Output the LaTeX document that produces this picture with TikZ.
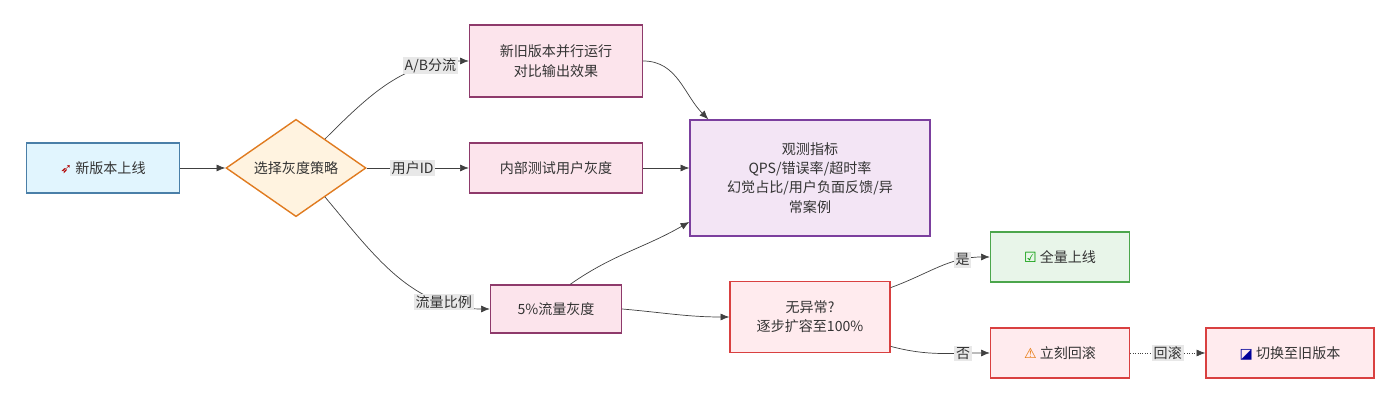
\documentclass[tikz,border=0pt]{standalone}
\usepackage{fontspec}
\setmainfont{Noto Sans CJK SC}
\newfontfamily\symfont{DejaVu Sans}
\usetikzlibrary{shapes.geometric,arrows.meta}
\definecolor{startFill}{HTML}{E1F5FE}
\definecolor{startLine}{HTML}{4A7FA8}
\definecolor{decFill}{HTML}{FFF3E0}
\definecolor{decLine}{HTML}{E07B20}
\definecolor{pinkFill}{HTML}{FCE4EC}
\definecolor{pinkLine}{HTML}{8E3A6B}
\definecolor{obsFill}{HTML}{F3E5F5}
\definecolor{obsLine}{HTML}{7B3F9E}
\definecolor{redFill}{HTML}{FFEBEE}
\definecolor{redLine}{HTML}{D94040}
\definecolor{okFill}{HTML}{E8F5E9}
\definecolor{okLine}{HTML}{4CA64C}
\definecolor{edgeLabel}{HTML}{E8E8E8}
\tikzset{
  box/.style = {draw, thick, align = center, inner sep = 2pt, font = \fontsize{8}{11}\selectfont, text = black!80},
  arr/.style = {-{Latex[length=5pt,width=4pt]}, draw = black!75, thin},
  lbl/.style = {fill = edgeLabel, inner sep = 1pt, font = \fontsize{8}{10}\selectfont, text = black!80}
}
\begin{document}
\begin{tikzpicture}[x = 0.02cm, y = -0.02cm]
    \useasboundingbox (0,0) rectangle (1400,404);
    \node[box, fill = startFill, draw = startLine, minimum width = 3.06cm, minimum height = 1cm](launch) at (103,168) {{\symfont\textcolor{red!70!black}{➶}}\ 新版本上线};
    \node[box, diamond, aspect = 1, fill = decFill, draw = decLine, minimum width = 2.8cm, inner sep = 0pt](strategy) at (296,168) {选择灰度策略};
    \node[box, fill = pinkFill, draw = pinkLine, minimum width = 3.46cm, minimum height = 1.44cm](abRun) at (556,61) {新旧版本并行运行\\对比输出效果};
    \node[box, fill = pinkFill, draw = pinkLine, minimum width = 3.46cm, minimum height = 1cm](userGray) at (556,168) {内部测试用户灰度};
    \node[box, fill = pinkFill, draw = pinkLine, minimum width = 2.62cm, minimum height = 0.96cm](pctGray) at (556,309) {5\%流量灰度};
    \node[box, fill = obsFill, draw = obsLine, minimum width = 4.8cm, minimum height = 2.32cm](observe) at (810,178) {观测指标\\QPS/错误率/超时率\\幻觉占比/用户负面反馈/异\\常案例};
    \node[box, fill = redFill, draw = redLine, minimum width = 3.2cm, minimum height = 1.42cm](check) at (810,317) {无异常?\\逐步扩容至100\%};
    \node[box, fill = okFill, draw = okLine, minimum width = 2.78cm, minimum height = 1cm](fullLaunch) at (1060,257) {{\symfont\textcolor{green!60!black}{☑}}\ 全量上线};
    \node[box, fill = redFill, draw = redLine, minimum width = 2.78cm, minimum height = 1cm](rollback) at (1060,353) {{\symfont\textcolor{orange!90!black}{⚠}}\ 立刻回滚};
    \node[box, fill = redFill, draw = redLine, minimum width = 3.36cm, minimum height = 1cm](oldVersion) at (1290,353) {{\symfont\textcolor{blue!60!black}{◪}}\ 切换至旧版本};

    \draw[arr] (launch) -- (strategy);
    \draw[arr] (strategy.45) to[out = 45, in = 180] node[lbl, pos = 0.78]{A/B分流} (abRun.west);
    \draw[arr] (strategy.east) -- node[lbl, pos = 0.45]{用户ID} (userGray.west);
    \draw[arr] (strategy.-45) to[out = -50, in = 180] node[lbl, pos = 0.78]{流量比例} (pctGray.west);
    \draw[arr] (abRun.east) to[out = 0, in = 135] (observe.150);
    \draw[arr] (userGray.east) -- (observe.west |- userGray.east);
    \draw[arr] (pctGray.60) to[out = 35, in = 210] (observe.-160);
    \draw[arr] (pctGray.east) to[out = -5, in = 180] (check.west);
    \draw[arr] (check.20) to[out = 20, in = 180] node[lbl, pos = 0.75]{是} (fullLaunch.west);
    \draw[arr] (check.-20) to[out = -15, in = 180] node[lbl, pos = 0.75]{否} (rollback.west);
    \draw[arr, densely dotted] (rollback) -- node[lbl]{回滚} (oldVersion);
\end{tikzpicture}
\end{document}
